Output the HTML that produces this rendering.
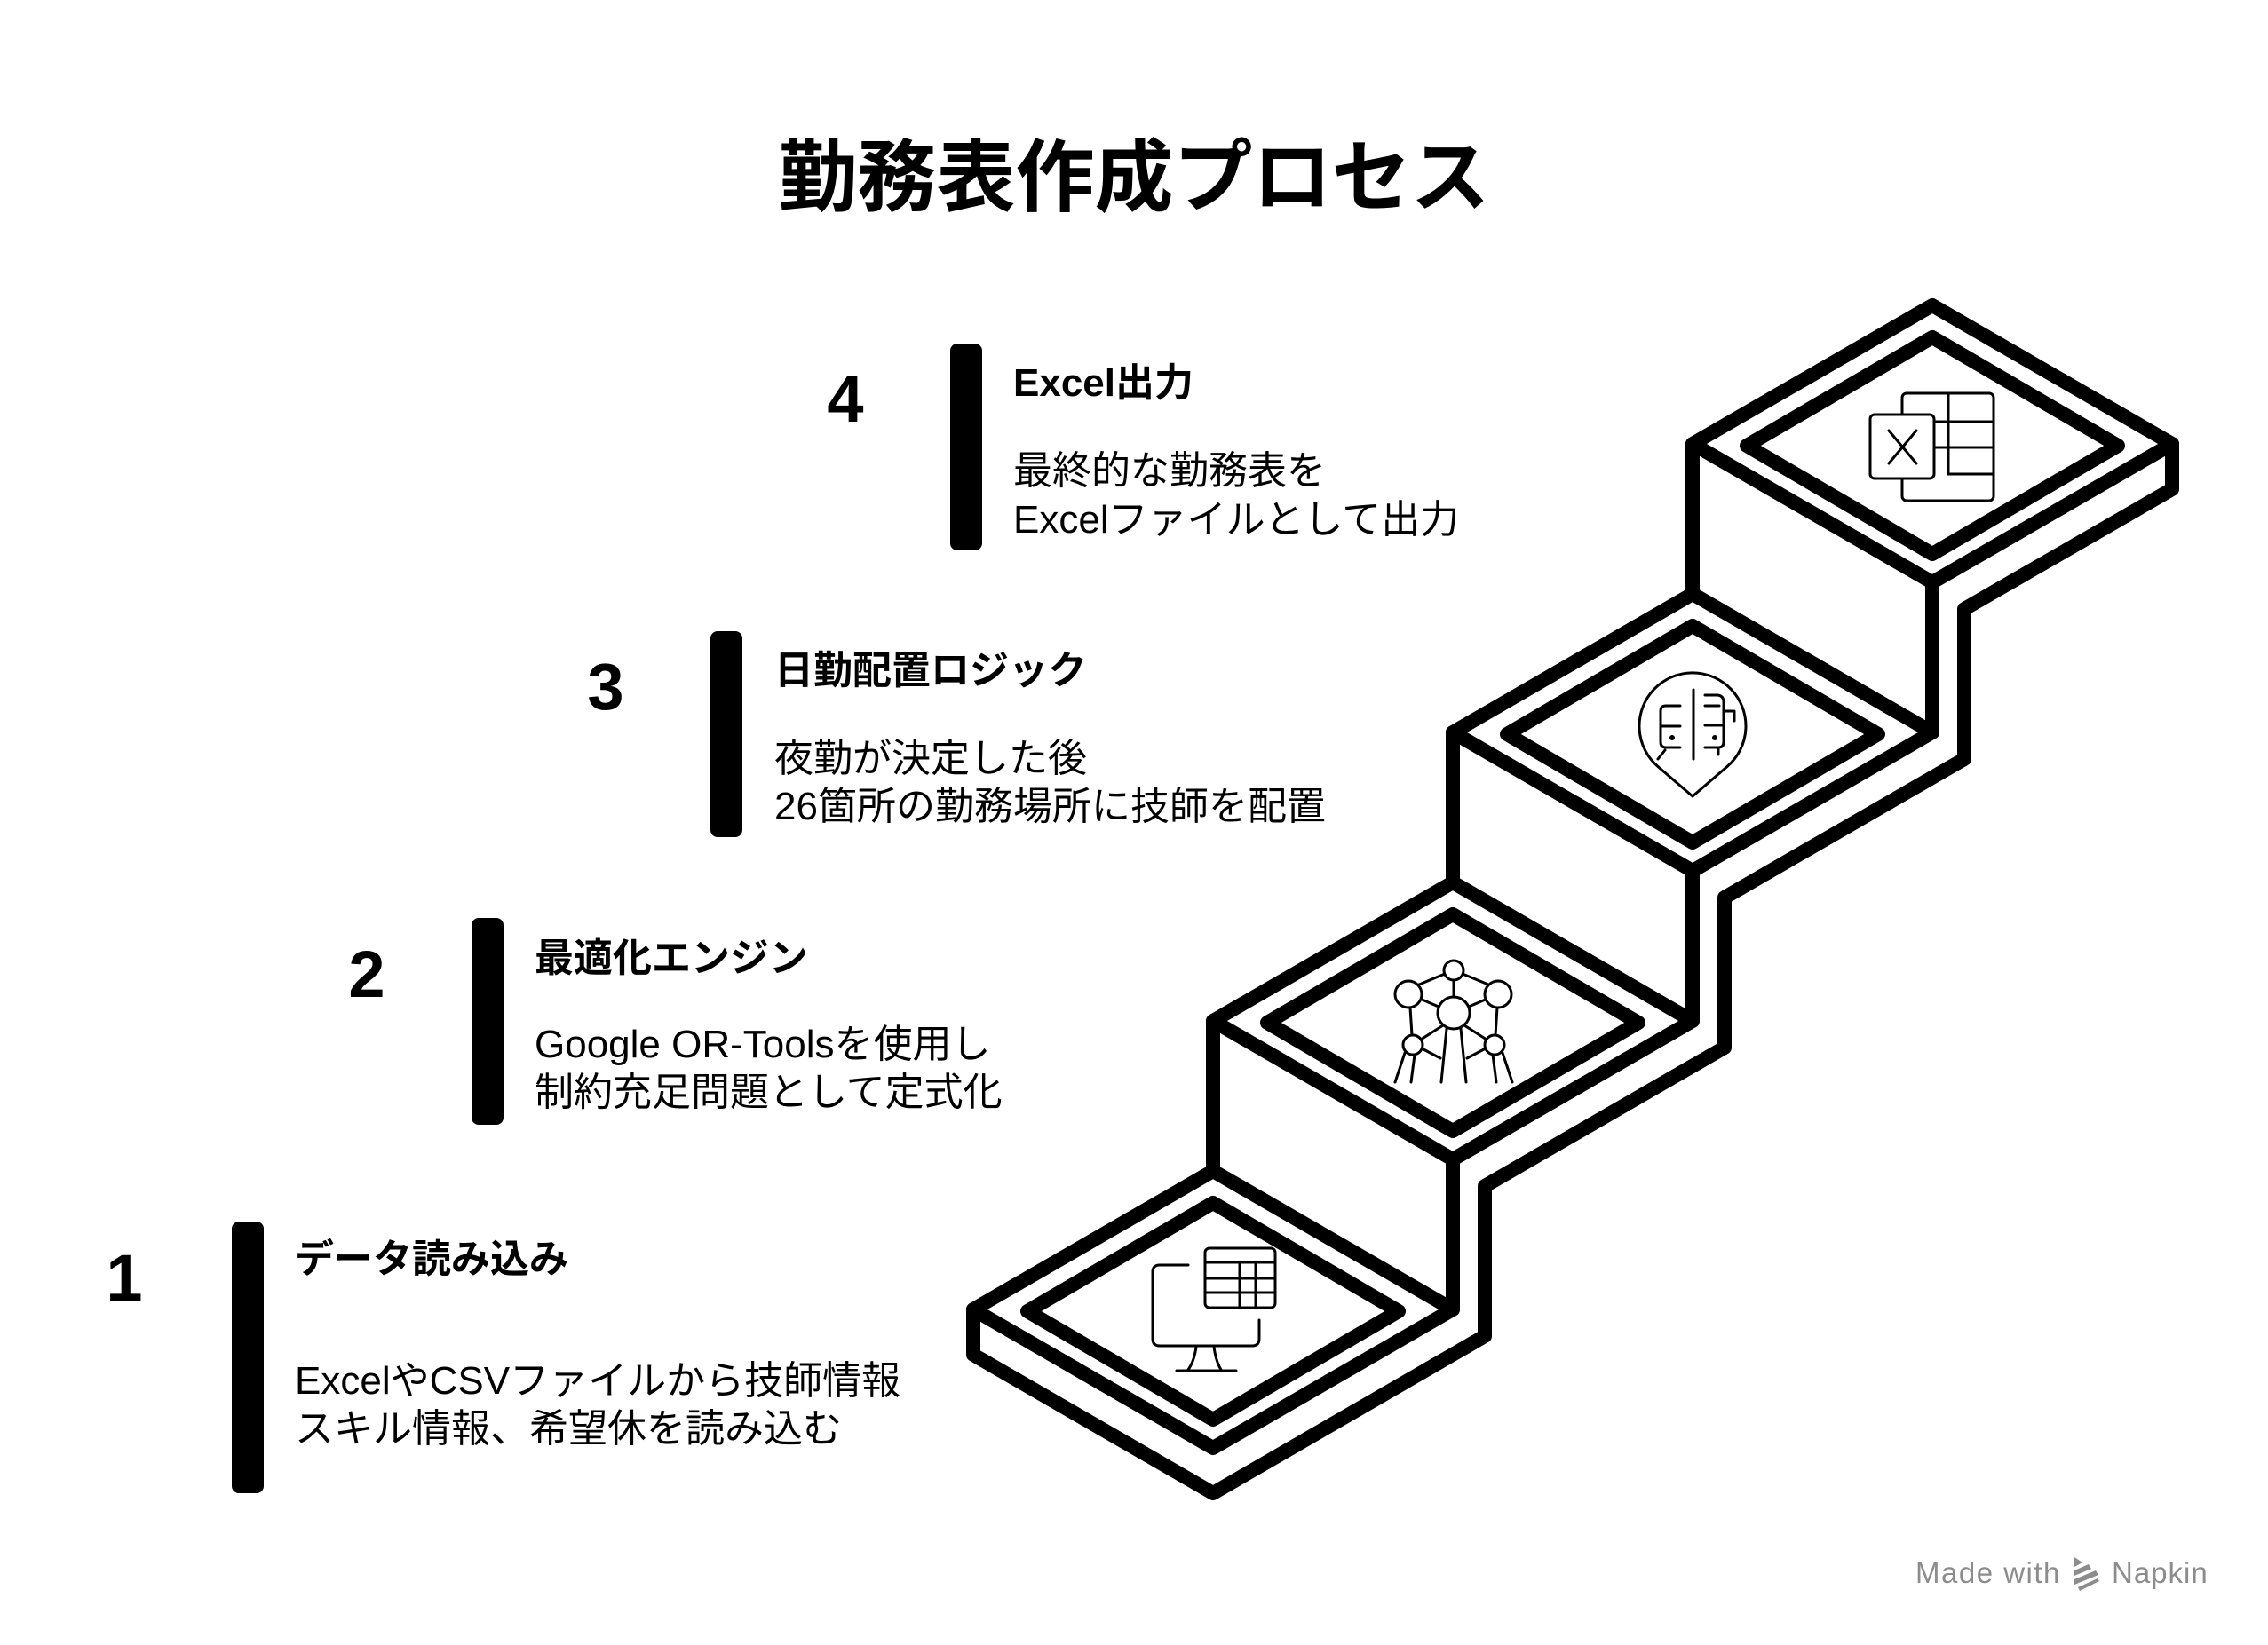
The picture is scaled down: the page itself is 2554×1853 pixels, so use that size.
<!DOCTYPE html>
<html>
<head>
<meta charset="utf-8">
<style>
html,body{margin:0;padding:0;background:#fff;}
body{width:2554px;height:1853px;overflow:hidden;}
svg{display:block;}
text{font-family:"Liberation Sans","Noto Sans CJK JP",sans-serif;fill:#000;}
</style>
</head>
<body>
<svg width="2554" height="1853" viewBox="0 0 2554 1853" xmlns="http://www.w3.org/2000/svg">
<rect width="2554" height="1853" fill="#fff"/>

<!-- Title -->
<text x="1277" y="231" font-size="89" font-weight="700" text-anchor="middle">勤務表作成プロセス</text>

<!-- Staircase -->
<g fill="none" stroke="#000" stroke-width="16" stroke-linejoin="round" stroke-linecap="round">
  <!-- outer top faces -->
  <polygon points="2176,344 2446,500 2176,656 1906,500"/>
  <polygon points="1906,669 2176,825 1906,981 1636,825"/>
  <polygon points="1636,994 1906,1150 1636,1306 1366,1150"/>
  <polygon points="1366,1319 1636,1475 1366,1631 1096,1475"/>
  <!-- inner faces -->
  <polygon points="2176,380 2385,502 2176,624 1967,502"/>
  <polygon points="1906,705 2115,827 1906,949 1697,827"/>
  <polygon points="1636,1030 1845,1152 1636,1274 1427,1152"/>
  <polygon points="1366,1355 1575,1477 1366,1599 1157,1477"/>
  <!-- risers -->
  <line x1="1906" y1="500" x2="1906" y2="669"/>
  <line x1="1636" y1="825" x2="1636" y2="994"/>
  <line x1="1366" y1="1150" x2="1366" y2="1319"/>
  <line x1="2176" y1="656" x2="2176" y2="825"/>
  <line x1="1906" y1="981" x2="1906" y2="1150"/>
  <line x1="1636" y1="1306" x2="1636" y2="1475"/>
  <!-- outer contour / slab -->
  <polyline points="2446,500 2446,551 2212,686 2212,855 1942,1011 1942,1180 1672,1336 1672,1505 1366,1682 1096,1526 1096,1475"/>
</g>

<!-- Icons -->
<g fill="none" stroke="#000" stroke-width="3" stroke-linecap="round" stroke-linejoin="round">
  <!-- Step 4: Excel -->
  <g transform="translate(2176,503)">
    <rect x="-34" y="-60" width="103" height="121" rx="5"/>
    <line x1="18" y1="-60" x2="18" y2="31"/>
    <line x1="18" y1="31" x2="69" y2="31"/>
    <line x1="2" y1="-28" x2="69" y2="-28"/>
    <line x1="2" y1="1" x2="69" y2="1"/>
    <rect x="-70" y="-36" width="72" height="72" rx="5" fill="#fff"/>
    <line x1="-49" y1="-18" x2="-18" y2="19"/>
    <line x1="-18" y1="-18" x2="-49" y2="19"/>
  </g>
  <!-- Step 3: pin with train -->
  <g transform="translate(1906,827)">
    <path d="M -39 36.5 L 0 70 L 39 36.5 A 60 60 0 1 0 -39 36.5 Z"/>
    <line x1="1" y1="-50" x2="1" y2="28"/>
    <path d="M -14 -32 H -30 Q -36 -32 -36 -26 V 9 Q -36 15 -30 15 H -14"/>
    <line x1="-36" y1="-9" x2="-14" y2="-9"/>
    <line x1="-31" y1="18" x2="-39" y2="28"/>
    <path d="M 14 -44 H 27 Q 35 -44 35 -36 V 9 Q 35 15 29 15 H 14"/>
    <line x1="14" y1="-32" x2="30" y2="-32"/>
    <line x1="14" y1="-10" x2="35" y2="-10"/>
    <path d="M 35 -26 H 47 V -15"/>
    <line x1="29" y1="15" x2="29" y2="23"/>
  </g>
  <g fill="#000" stroke="none">
    <circle cx="1883" cy="831" r="3"/>
    <circle cx="1931" cy="831" r="3"/>
  </g>
  <!-- Step 2: Atomium -->
  <g transform="translate(1637,1150)">
    <line x1="0" y1="-46" x2="0" y2="-27"/>
    <line x1="-10" y1="-53" x2="-39" y2="-41"/>
    <line x1="10" y1="-53" x2="39" y2="-41"/>
    <line x1="-38" y1="-25" x2="-17" y2="-16"/>
    <line x1="38" y1="-25" x2="17" y2="-16"/>
    <line x1="-49" y1="-15" x2="-47" y2="16"/>
    <line x1="49" y1="-15" x2="47" y2="16"/>
    <line x1="-12" y1="5" x2="-37" y2="21"/>
    <line x1="12" y1="5" x2="37" y2="21"/>
    <line x1="-36" y1="31" x2="-15" y2="42"/>
    <line x1="36" y1="31" x2="15" y2="42"/>
    <line x1="-55" y1="36" x2="-66" y2="69"/>
    <line x1="-44" y1="38" x2="-48" y2="69"/>
    <line x1="44" y1="38" x2="48" y2="69"/>
    <line x1="55" y1="36" x2="66" y2="69"/>
    <line x1="-8" y1="9" x2="-14" y2="69"/>
    <line x1="8" y1="9" x2="14" y2="69"/>
    <circle cx="0" cy="-57" r="11" fill="#fff"/>
    <circle cx="-51" cy="-30" r="15" fill="#fff"/>
    <circle cx="50" cy="-30" r="15" fill="#fff"/>
    <circle cx="0" cy="-9" r="18" fill="#fff"/>
    <circle cx="-46" cy="27" r="11" fill="#fff"/>
    <circle cx="46" cy="27" r="11" fill="#fff"/>
  </g>
  <!-- Step 1: monitor + table -->
  <g transform="translate(1367,1475)">
    <rect x="-10" y="-69" width="79" height="67" rx="5"/>
    <line x1="-10" y1="-53" x2="69" y2="-53"/>
    <line x1="-10" y1="-35" x2="69" y2="-35"/>
    <line x1="-10" y1="-19" x2="69" y2="-19"/>
    <line x1="29" y1="-53" x2="29" y2="-2"/>
    <line x1="47" y1="-53" x2="47" y2="-2"/>
    <path d="M -29 -50 H -61 Q -69 -50 -69 -42 V 33 Q -69 41 -61 41 H 43 Q 51 41 51 33 V 12"/>
    <path d="M -20 42 Q -22 58 -29 68"/>
    <path d="M 0 42 Q 2 58 8 68"/>
    <line x1="-42" y1="69" x2="25" y2="69"/>
  </g>
</g>

<!-- Step 4 -->
<text x="952" y="475" font-size="74" font-weight="700" text-anchor="middle">4</text>
<rect x="1070" y="387" width="36" height="233" rx="8" fill="#000"/>
<text x="1141" y="446" font-size="44" font-weight="700">Excel出力</text>
<text x="1141" y="545" font-size="44">最終的な勤務表を</text>
<text x="1141" y="600" font-size="44">Excelファイルとして出力</text>

<!-- Step 3 -->
<text x="682" y="799" font-size="74" font-weight="700" text-anchor="middle">3</text>
<rect x="800" y="711" width="36" height="232" rx="8" fill="#000"/>
<text x="872" y="770" font-size="44" font-weight="700">日勤配置ロジック</text>
<text x="872" y="869" font-size="44">夜勤が決定した後</text>
<text x="872" y="923" font-size="44">26箇所の勤務場所に技師を配置</text>

<!-- Step 2 -->
<text x="413" y="1123" font-size="74" font-weight="700" text-anchor="middle">2</text>
<rect x="531" y="1034" width="36" height="233" rx="8" fill="#000"/>
<text x="602" y="1094" font-size="44" font-weight="700">最適化エンジン</text>
<text x="602" y="1191" font-size="44">Google OR-Toolsを使用し</text>
<text x="602" y="1245" font-size="44">制約充足問題として定式化</text>

<!-- Step 1 -->
<text x="140" y="1465" font-size="74" font-weight="700" text-anchor="middle">1</text>
<rect x="261" y="1376" width="36" height="306" rx="8" fill="#000"/>
<text x="332" y="1433" font-size="44" font-weight="700">データ読み込み</text>
<text x="332" y="1570" font-size="44">ExcelやCSVファイルから技師情報</text>
<text x="332" y="1624" font-size="44">スキル情報、希望休を読み込む</text>

<!-- Made with Napkin -->
<text x="2157" y="1783" font-size="33" letter-spacing="1.5" style="fill:#8c8c8c">Made with</text>
<g fill="#8c8c8c">
  <polygon points="2336,1754 2345,1760 2336,1765"/>
  <polygon points="2336,1769 2352,1762 2355,1767 2336,1775"/>
  <polygon points="2336,1779 2360,1769 2363,1774 2336,1785"/>
  <polygon points="2340,1788 2362,1778 2364,1781 2342,1792"/>
</g>
<text x="2378" y="1783" font-size="33" letter-spacing="1" style="fill:#8c8c8c">Napkin</text>
</svg>
</body>
</html>
